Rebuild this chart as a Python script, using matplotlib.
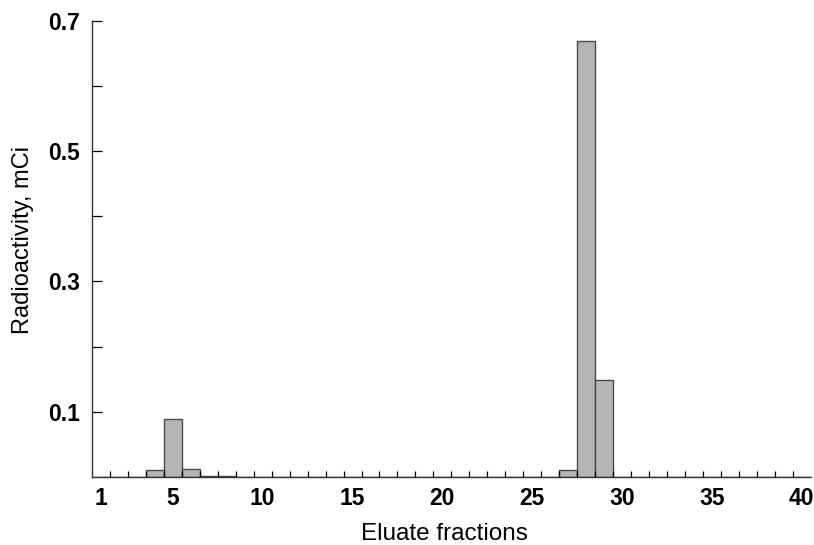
import matplotlib.pyplot as plt
import numpy as np

plt.rcParams['font.family'] = ['Liberation Sans', 'DejaVu Sans']

fractions = np.arange(1, 41)
activity = np.zeros(40)
# nonzero fractions
peaks = {4: 0.010, 5: 0.089, 6: 0.012, 7: 0.002, 8: 0.002,
         27: 0.010, 28: 0.669, 29: 0.149}
for k, v in peaks.items():
    activity[k - 1] = v

xtick_labels = [1, 5, 10, 15, 20, 25, 30, 35, 40]
ytick_labels = [0.1, 0.3, 0.5, 0.7]

fig = plt.figure(figsize=(8.14, 5.45), dpi=100)
ax = fig.add_axes([0.113, 0.125, 0.883, 0.837])

ax.bar(fractions, activity, width=1.0, color='#b5b5b5',
       edgecolor='#4a4a4a', linewidth=1.0)

ax.set_xlim(0.5, 40.5)
ax.set_ylim(0, 0.7)

ax.set_xticks(xtick_labels)
ax.set_xticklabels([str(t) for t in xtick_labels], fontsize=16.5, fontweight='bold')
ax.set_xticks(np.arange(1.5, 40.5, 1.0), minor=True)
ax.tick_params(axis='x', which='major', length=0, pad=7)
ax.tick_params(axis='x', which='minor', direction='in', length=4.5, width=0.9)

ax.set_yticks(ytick_labels)
ax.set_yticklabels(['{:.1f}'.format(t) for t in ytick_labels], fontsize=16.5, fontweight='bold')
ax.set_yticks([0.2, 0.4, 0.6], minor=True)
ax.tick_params(axis='y', which='both', direction='in', length=7.5, width=0.9, pad=8.5)

for s in ['top', 'right']:
    ax.spines[s].set_visible(False)
for s in ['left', 'bottom']:
    ax.spines[s].set_linewidth(1.0)
    ax.spines[s].set_color('#333333')

ax.set_xlabel('Eluate fractions', fontsize=17.5)
ax.set_ylabel('Radioactivity, mCi', fontsize=17)
ax.xaxis.set_label_coords(0.49, -0.102)
ax.yaxis.set_label_coords(-0.081, 0.52)

fig.savefig('out.png', dpi=100)
